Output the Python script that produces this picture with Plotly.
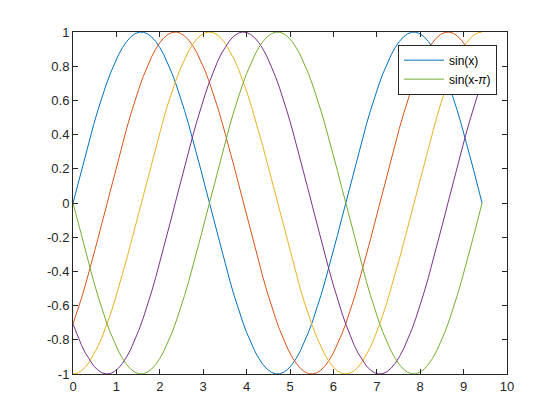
import numpy as np
import plotly.graph_objects as go

# Data: phase shifts (multiples of pi) of the plotted sine curves, x range 0..3*pi
phase_multiples = [0, 0.25, 0.5, 0.75, 1.0]
names = ["sin(x)", "sin(x-π/4)", "sin(x-π/2)", "sin(x-3π/4)", "sin(x-<i>π</i>)"]
show_in_legend = [True, False, False, False, True]
colors = ["#0072BD", "#D95319", "#EDB120", "#7E2F8E", "#77AC30"]
x_vals = np.linspace(0, 3 * np.pi, 100)

x_ticks = [0, 1, 2, 3, 4, 5, 6, 7, 8, 9, 10]
y_ticks = [-1, -0.8, -0.6, -0.4, -0.2, 0, 0.2, 0.4, 0.6, 0.8, 1]
y_tick_text = ["-1", "-0.8", "-0.6", "-0.4", "-0.2", "0", "0.2", "0.4", "0.6", "0.8", "1"]

fig = go.Figure()
for pm, name, sl, c in zip(phase_multiples, names, show_in_legend, colors):
    fig.add_trace(go.Scatter(
        x=x_vals, y=np.sin(x_vals - pm * np.pi), mode="lines", name=name,
        line=dict(color=c, width=1), showlegend=sl))

axis_common = dict(
    showline=True, linecolor="#262626", linewidth=1, mirror="ticks",
    ticks="inside", ticklen=5, tickcolor="#262626", showgrid=False, zeroline=False,
    tickfont=dict(family="Liberation Sans, Arial, sans-serif", size=13, color="#262626"),
    automargin=False,
)
fig.update_xaxes(range=[0, 10], tickvals=x_ticks, **axis_common)
fig.update_yaxes(range=[-1, 1], tickvals=y_ticks, ticktext=y_tick_text, **axis_common)

fig.update_layout(
    width=560, height=420,
    margin=dict(l=65, r=61, t=24, b=54),
    paper_bgcolor="white", plot_bgcolor="white",
    legend=dict(x=0.977, y=0.963, xanchor="right", yanchor="top",
                bordercolor="#262626", borderwidth=1, bgcolor="white",
                font=dict(family="Liberation Sans, Arial, sans-serif", size=12, color="#000000"),
                tracegroupgap=0, itemwidth=40),
)

fig.write_html("out.html")
